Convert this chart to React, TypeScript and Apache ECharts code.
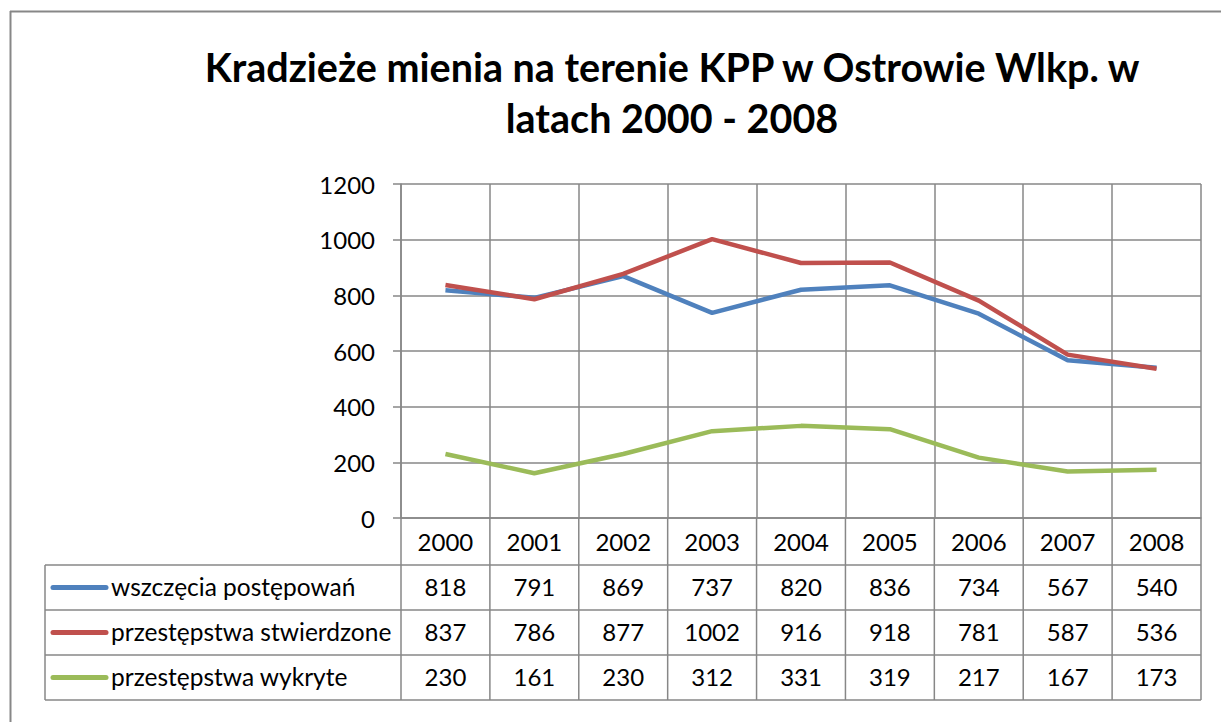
import React, { useEffect, useRef } from "react";
import * as echarts from "echarts";

const years = ["2000", "2001", "2002", "2003", "2004", "2005", "2006", "2007", "2008"];
const wszczecia = [818, 791, 869, 737, 820, 836, 734, 567, 540];
const stwierdzone = [837, 786, 877, 1002, 916, 918, 781, 587, 536];
const wykryte = [230, 161, 230, 312, 331, 319, 217, 167, 173];
const seriesNames = ["wszczęcia postępowań", "przestępstwa stwierdzone", "przestępstwa wykryte"];
const seriesColors = ["#4F81BD", "#C0504D", "#9BBB59"];
const yTicks = [0, 200, 400, 600, 800, 1000, 1200];

const W = 1221;
const H = 722;
const GL = 401;
const GR = 1201;
const GT = 184;
const GB = 518;
const rowLines = [565, 610, 655, 700];
const tableLeft = 45;
const gridColor = "#878787";
const FONT = "Lato, 'Open Sans', sans-serif";

export default function App() {
  const ref = useRef<HTMLDivElement>(null);
  useEffect(() => {
    document.body.style.margin = "0";
    const chart = echarts.init(ref.current!, null, { renderer: "svg" });
    const allData = [wszczecia, stwierdzone, wykryte];
    const colW = (GR - GL) / years.length;
    const graphics: any[] = [];
    graphics.push({
      type: "line",
      shape: { x1: 10, y1: 11.5, x2: W, y2: 11.5 },
      style: { stroke: gridColor, lineWidth: 2 },
      silent: true,
    });
    graphics.push({
      type: "line",
      shape: { x1: 10.5, y1: 11, x2: 10.5, y2: H },
      style: { stroke: gridColor, lineWidth: 2 },
      silent: true,
    });
    rowLines.forEach((y) => {
      graphics.push({
        type: "line",
        shape: { x1: tableLeft, y1: y, x2: GR, y2: y },
        style: { stroke: gridColor, lineWidth: 1.5 },
      });
    });
    graphics.push({
      type: "line",
      shape: { x1: tableLeft, y1: rowLines[0], x2: tableLeft, y2: rowLines[3] },
      style: { stroke: gridColor, lineWidth: 1.5 },
    });
    for (let k = 0; k <= years.length; k++) {
      const x = GL + k * colW;
      graphics.push({
        type: "line",
        shape: { x1: x, y1: GB, x2: x, y2: rowLines[3] },
        style: { stroke: gridColor, lineWidth: 1.5 },
      });
    }
    allData.forEach((arr, r) => {
      const cy = (rowLines[r] + rowLines[r + 1]) / 2;
      graphics.push({
        type: "line",
        shape: { x1: 53, y1: cy, x2: 106, y2: cy },
        style: { stroke: seriesColors[r], lineWidth: 5, lineCap: "round" },
      });
      graphics.push({
        type: "text",
        x: 111,
        y: cy - 1,
        style: { text: seriesNames[r], fontSize: 24.5, fontFamily: FONT, fill: "#000", textVerticalAlign: "middle", textAlign: "left" },
      });
      arr.forEach((v, i) => {
        graphics.push({
          type: "text",
          x: GL + (i + 0.5) * colW,
          y: cy - 1,
          style: { text: String(v), fontSize: 24, fontFamily: FONT, fill: "#000", textAlign: "center", textVerticalAlign: "middle" },
        });
      });
    });
    graphics.push({
      type: "text",
      x: 672,
      y: 66,
      style: { text: "Kradzieże mienia na terenie KPP w Ostrowie Wlkp. w", fontSize: 39.5, fontWeight: "bold", fontFamily: FONT, fill: "#000", textAlign: "center", textVerticalAlign: "middle" },
    });
    graphics.push({
      type: "text",
      x: 672,
      y: 117,
      style: { text: "latach 2000 - 2008", fontSize: 39.5, fontWeight: "bold", fontFamily: FONT, fill: "#000", textAlign: "center", textVerticalAlign: "middle" },
    });

    chart.setOption({
      animation: false,
      backgroundColor: "#fff",
      grid: { left: GL, right: W - GR, top: GT, bottom: H - GB, containLabel: false },
      xAxis: {
        type: "category",
        data: years,
        boundaryGap: true,
        axisLine: { show: true, lineStyle: { color: gridColor, width: 1.5 } },
        axisTick: { show: false },
        axisLabel: { color: "#000", fontSize: 24, fontFamily: FONT, margin: 11 },
        splitLine: { show: true, interval: 0, lineStyle: { color: gridColor, width: 1.5 } },
      },
      yAxis: {
        type: "value",
        min: yTicks[0],
        max: yTicks[yTicks.length - 1],
        interval: 200,
        axisLine: { show: true, lineStyle: { color: gridColor, width: 1.5 } },
        axisTick: { show: true, length: 8, lineStyle: { color: gridColor, width: 1.5 } },
        axisLabel: { color: "#000", fontSize: 24, fontFamily: FONT, margin: 26, formatter: (v: number) => String(v) },
        splitLine: { show: true, lineStyle: { color: gridColor, width: 1.5 } },
      },
      series: allData.map((d, i) => ({
        type: "line",
        name: seriesNames[i],
        data: d,
        symbol: "none",
        lineStyle: { color: seriesColors[i], width: 4.5 },
        itemStyle: { color: seriesColors[i] },
      })),
      graphic: graphics,
    });
    return () => chart.dispose();
  }, []);
  return <div ref={ref} style={{ width: W, height: H }} />;
}
